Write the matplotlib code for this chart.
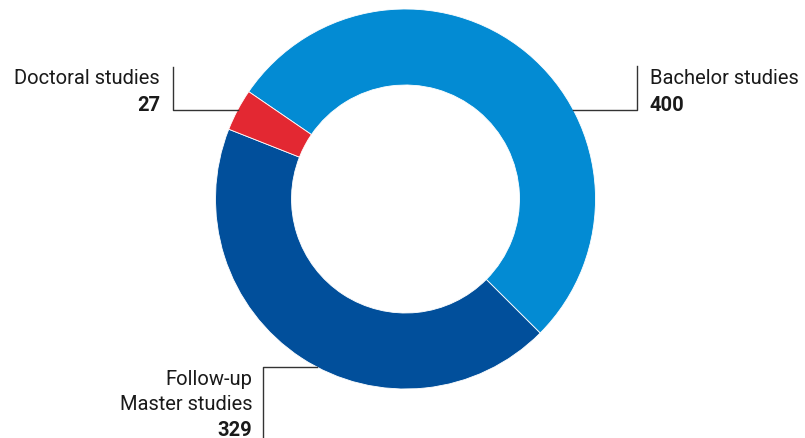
import numpy as np
import matplotlib.pyplot as plt

labels = ['Bachelor studies', 'Follow-up\nMaster studies', 'Doctoral studies']
values = [400, 329, 27]
colors = ['#038bd3', '#014f9b', '#e32832']

W, H = 805, 439
cx, cy, r = 405.5, H - 200, 190

plt.rcParams['font.family'] = ['Roboto', 'DejaVu Sans']

fig = plt.figure(figsize=(W / 100, H / 100), dpi=100)
ax = fig.add_axes([0, 0, 1, 1])
ax.set_xlim(0, W)
ax.set_ylim(0, H)
ax.axis('off')

ax.pie(values, colors=colors, startangle=145.6, counterclock=False,
       center=(cx, cy), radius=r, frame=True,
       wedgeprops=dict(width=r * 0.4, edgecolor='white', linewidth=0.6))
ax.set_xlim(0, W)
ax.set_ylim(0, H)
ax.set_aspect('equal')
ax.axis('off')


def edge_x(y, side):
    return cx + side * np.sqrt(r ** 2 - (y - cy) ** 2)


lc = '#333333'
fs = 14.5
tc = '#1a1a1a'

# Bachelor
yl = H - 111
ax.plot([edge_x(yl, 1), 637, 637], [yl, yl, H - 67], color=lc, lw=1)
ax.text(650, H - 84, labels[0], fontsize=fs, color=tc, ha='left', va='baseline')
ax.text(650, H - 111, str(values[0]), fontsize=fs, color=tc, ha='left',
        va='baseline', fontweight='bold')

# Doctoral
ax.plot([edge_x(yl, -1), 173, 173], [yl, yl, H - 68], color=lc, lw=1)
ax.text(160, H - 84, labels[2], fontsize=fs, color=tc, ha='right', va='baseline')
ax.text(160, H - 111, str(values[2]), fontsize=fs, color=tc, ha='right',
        va='baseline', fontweight='bold')

# Master
ym = H - 368
ax.plot([edge_x(ym, -1), 263, 263], [ym, ym, -2], color=lc, lw=1)
first, second = labels[1].split('\n')
ax.text(252, H - 385, first, fontsize=fs, color=tc, ha='right', va='baseline')
ax.text(252, H - 410, second, fontsize=fs, color=tc, ha='right', va='baseline')
ax.text(252, H - 436, str(values[1]), fontsize=fs, color=tc, ha='right',
        va='baseline', fontweight='bold')

fig.savefig('out.png', dpi=100)
